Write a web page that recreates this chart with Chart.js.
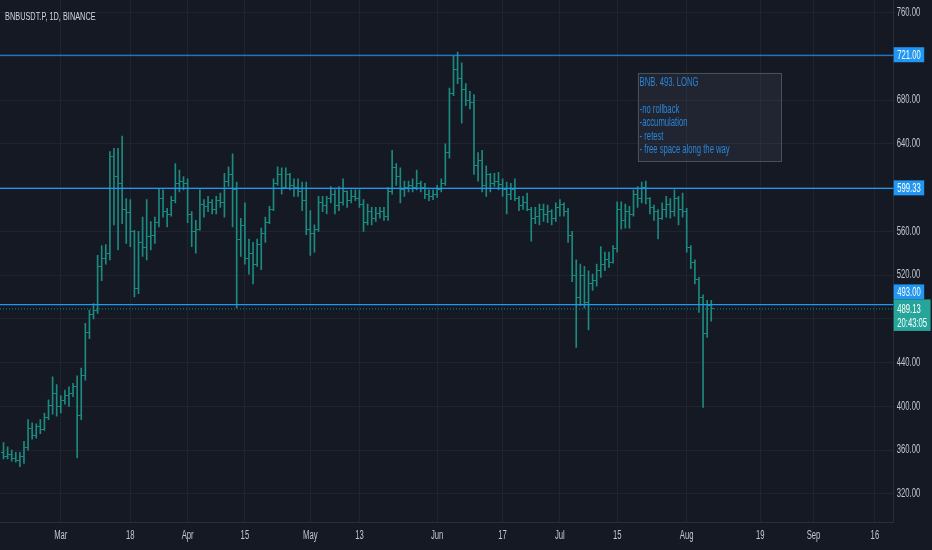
<!DOCTYPE html>
<html>
<head>
<meta charset="utf-8">
<title>BNBUSDT.P, 1D, BINANCE</title>
<script src="https://cdn.jsdelivr.net/npm/chart.js@4.4.1/dist/chart.umd.min.js"></script>
<style>
  html, body { margin: 0; padding: 0; background: #151924; }
  #wrap { width: 932px; height: 550px; position: relative; }
</style>
</head>
<body>
<div id="wrap"><canvas id="chart"></canvas></div>
<script>
// daily bars, day 0 = 1 Mar 2024 (first bar is 16 Feb)
var firstDay = -14;

var opens = [
  358,354,356,352,351,354,362,380,373,382,
  379,390,401,412,400,405,410,412,418,392,
  428,468,484,488,528,535,540,628,610,604,
  580,577,560,508,550,545,555,556,568,590,
  578,575,588,604,606,604,575,560,562,585,
  583,586,580,588,586,606,612,598,553,565,
  535,540,530,548,558,568,580,604,612,600,
  612,602,600,596,588,562,558,562,586,584,
  590,594,584,586,596,588,592,590,585,568,
  578,572,576,578,574,596,618,610,598,600,
  602,600,604,600,594,592,594,598,604,632,
  686,708,700,690,680,678,620,625,602,612,
  604,606,603,598,594,598,590,584,586,580,
  572,574,580,575,578,572,582,585,578,556,
  520,500,520,495,512,515,524,530,534,532,
  544,580,570,578,575,594,590,600,590,582,
  578,572,580,585,578,590,580,578,545,532,
  516,500,467,492
];
var highs = [
  367,363,360,358,358,368,388,385,384,388,
  394,406,427,420,410,415,418,421,428,435,
  476,488,494,538,547,548,633,636,636,647,
  590,589,561,560,573,589,569,573,599,598,
  581,592,622,616,610,608,578,570,598,589,
  592,589,592,595,613,619,631,605,572,586,
  553,550,553,563,573,583,608,619,618,618,
  613,608,608,605,605,579,566,592,592,592,
  601,598,601,608,597,598,598,598,589,585,
  582,582,582,582,600,634,622,618,606,606,
  608,616,606,604,598,598,602,608,640,691,
  720,724,714,695,688,685,632,634,620,613,
  613,614,608,605,604,608,592,592,595,582,
  582,585,585,584,580,586,589,586,581,560,
  534,530,528,524,521,530,546,541,541,547,
  587,587,585,583,598,601,605,606,591,584,
  580,586,592,590,598,592,595,581,547,534,
  518,502,497,497
];
var lows = [
  352,352,350,349,345,348,360,370,371,375,
  378,388,393,391,394,402,400,409,353,388,
  424,462,480,485,515,530,534,566,543,567,
  549,546,500,503,537,534,543,549,564,573,
  564,574,586,596,598,568,546,540,561,573,
  578,576,576,582,573,601,564,490,537,530,
  521,512,528,525,550,567,579,602,594,599,
  598,592,592,579,557,538,541,560,578,576,
  586,576,579,584,582,586,588,582,560,566,
  566,569,572,570,570,594,602,586,592,596,
  596,598,596,590,588,589,591,596,602,627,
  684,695,659,675,672,612,606,596,592,596,
  601,598,592,576,589,588,579,580,579,551,
  567,566,569,568,566,569,574,574,550,514,
  454,492,490,470,506,510,518,524,527,531,
  541,562,563,563,574,582,586,585,576,570,
  553,571,573,572,574,566,573,541,526,512,
  486,399,463,478
];
var closes = [
  354,356,352,351,354,362,380,373,382,379,
  390,401,412,400,405,410,412,418,392,428,
  468,484,488,528,535,540,628,610,604,580,
  577,560,508,550,545,555,556,568,590,578,
  575,588,604,606,604,575,560,562,585,583,
  586,580,588,586,606,612,598,553,565,535,
  540,530,548,558,568,580,604,612,600,612,
  602,600,596,588,562,558,562,586,584,590,
  594,584,586,596,588,592,590,585,568,578,
  572,576,578,574,596,618,610,598,600,602,
  600,604,600,594,592,594,598,604,632,686,
  708,700,690,680,678,620,625,602,612,604,
  606,603,598,594,598,590,584,586,580,572,
  574,580,575,578,572,582,585,578,556,520,
  500,520,495,512,515,524,530,534,532,544,
  580,570,578,575,594,590,600,590,582,578,
  572,580,585,578,590,580,578,545,532,516,
  500,467,492,489.13
];

var priceTicks = [320, 360, 400, 440, 480, 520, 560, 600, 640, 680, 720, 760];
var dateTickDays = [0, 17, 31, 45, 61, 73, 92, 108, 122, 136, 153, 171, 184, 199];
var dateTickLabels = ["Mar", "18", "Apr", "15", "May", "13", "Jun", "17", "Jul", "15", "Aug", "19", "Sep", "16"];

var levels = [721, 599.33, 493];
var lastPrice = 489.13;
var countdown = "20:43:05";
var symbolTitle = "BNBUSDT.P, 1D, BINANCE";
var noteLines = ["BNB. 493. LONG", "", "-no rollback", "-accumulation", "- retest", "- free space along the way"];
var noteAt = [141, 705]; // day, price of the note's top-left corner

var xMin = -14.86, xMax = 203.6;
var yMin = 293.8, yMax = 771.5;

var FONT = "'Liberation Sans', Arial, sans-serif";
var SQUEEZE = 0.64; // screenshot text is very narrow
var GRID = '#20242f';
var TEXT = '#c3c6ce';
var BAR = '#1b8a7f';
var LEVEL = '#2196f3';

function tickImage(side) {
  var c = document.createElement('canvas');
  c.width = 5; c.height = 1;
  var g = c.getContext('2d');
  g.fillStyle = BAR;
  g.fillRect(side < 0 ? 0 : 3, 0, 2, 1);
  return c;
}

var wicks = opens.map(function (o, i) { return { x: firstDay + i, y: [lows[i], highs[i]] }; });
var openPts = opens.map(function (o, i) { return { x: firstDay + i, y: o }; });
var closePts = closes.map(function (c, i) { return { x: firstDay + i, y: c }; });

var datasets = [];
levels.forEach(function (v) {
  datasets.push({
    type: 'line', data: [{ x: xMin, y: v }, { x: xMax, y: v }],
    borderColor: LEVEL, borderWidth: 1.2, pointRadius: 0, order: 0
  });
});
datasets.push({
  type: 'line', data: [{ x: xMin, y: lastPrice }, { x: xMax, y: lastPrice }],
  borderColor: BAR, borderWidth: 1, borderDash: [1, 2], pointRadius: 0, order: 1
});
datasets.push({ type: 'scatter', data: openPts, pointStyle: tickImage(-1), pointRadius: 2, order: 2 });
datasets.push({ type: 'scatter', data: closePts, pointStyle: tickImage(1), pointRadius: 2, order: 2 });
datasets.push({ type: 'bar', data: wicks, backgroundColor: BAR, borderWidth: 0, barThickness: 1, order: 3 });

function box(ctx, x, y, w, h, fill) {
  ctx.fillStyle = fill;
  ctx.fillRect(x, y, w, h);
}

var overlays = {
  id: 'overlays',
  beforeDraw: function (chart) {
    // squeeze every text horizontally, around its anchor point
    var ctx = chart.ctx;
    if (ctx._narrow) return;
    var fill = ctx.fillText;
    ctx.fillText = function (t, x, y) {
      this.save();
      this.translate(x, y);
      this.scale(SQUEEZE, 1);
      fill.call(this, t, 0, 0);
      this.restore();
    };
    ctx._narrow = true;
  },
  afterDatasetsDraw: function (chart) {
    var ctx = chart.ctx, xs = chart.scales.x, ys = chart.scales.y;
    var left = xs.getPixelForValue(noteAt[0]);
    var top = ys.getPixelForValue(noteAt[1]);
    var w = 144, h = 89;
    ctx.save();
    box(ctx, left, top, w, h, 'rgba(62,66,78,0.3)');
    ctx.strokeStyle = '#4a4e59';
    ctx.lineWidth = 1;
    ctx.strokeRect(Math.round(left) + 0.5, Math.round(top) + 0.5, w - 1, h - 1);
    ctx.fillStyle = '#2a86d8';
    ctx.font = '12px ' + FONT;
    ctx.textBaseline = 'middle';
    noteLines.forEach(function (t, i) { ctx.fillText(t, left + 2, top + 10 + i * 13.4); });
    ctx.fillStyle = '#d1d4dc';
    ctx.font = '11.5px ' + FONT;
    ctx.fillText(symbolTitle, 5, 16.5);
    ctx.restore();
  },
  afterDraw: function (chart) {
    var ctx = chart.ctx, ys = chart.scales.y;
    var lx = ys.left;
    ctx.save();
    ctx.font = '12px ' + FONT;
    ctx.textBaseline = 'middle';
    var lastY = ys.getPixelForValue(lastPrice);
    var tealTop = lastY - 9.5, tealH = 31.5;
    levels.forEach(function (v) {
      var y = ys.getPixelForValue(v);
      var t = v.toFixed(2);
      var top = y - 8;
      if (top + 15 > tealTop && top < tealTop + tealH) top = tealTop - 15;
      var w = ctx.measureText(t).width * SQUEEZE + 7;
      box(ctx, lx, top, w, 15, LEVEL);
      ctx.fillStyle = '#ffffff';
      ctx.fillText(t, lx + 3.5, top + 8);
    });
    var t1 = lastPrice.toFixed(2);
    var tw = Math.max(ctx.measureText(t1).width, ctx.measureText(countdown).width) * SQUEEZE + 7;
    box(ctx, lx, tealTop, tw, tealH, '#26a69a');
    ctx.fillStyle = '#ffffff';
    ctx.fillText(t1, lx + 3.5, lastY + 0.5);
    ctx.fillText(countdown, lx + 3.5, lastY + 14.5);
    ctx.restore();
  }
};

new Chart(document.getElementById('chart'), {
  type: 'bar',
  data: { datasets: datasets },
  options: {
    responsive: true,
    maintainAspectRatio: false,
    animation: false,
    layout: { padding: 0, autoPadding: false },
    plugins: { legend: { display: false }, tooltip: { enabled: false }, title: { display: false } },
    scales: {
      x: {
        type: 'linear', min: xMin, max: xMax, offset: false,
        grid: { color: GRID, offset: false, drawTicks: false },
        border: { color: '#2a2e39' },
        afterBuildTicks: function (s) { s.ticks = dateTickDays.map(function (d) { return { value: d }; }); },
        afterFit: function (s) { s.height = 27.4; s.paddingLeft = 0; s.paddingRight = 0; },
        ticks: {
          autoSkip: false, maxRotation: 0, padding: 6, color: TEXT,
          font: { family: FONT, size: 12 },
          callback: function (v, i) { return dateTickLabels[i]; }
        }
      },
      y: {
        type: 'linear', position: 'right', min: yMin, max: yMax,
        grid: { color: GRID, drawTicks: false },
        border: { color: '#2a2e39' },
        afterBuildTicks: function (s) { s.ticks = priceTicks.map(function (p) { return { value: p }; }); },
        afterFit: function (s) { s.width = 38.3; s.paddingTop = 0; s.paddingBottom = 0; },
        ticks: {
          padding: 3, color: TEXT,
          font: { family: FONT, size: 12 },
          callback: function (v) { return Number(v).toFixed(2); }
        }
      }
    }
  },
  plugins: [overlays]
});
</script>
</body>
</html>
